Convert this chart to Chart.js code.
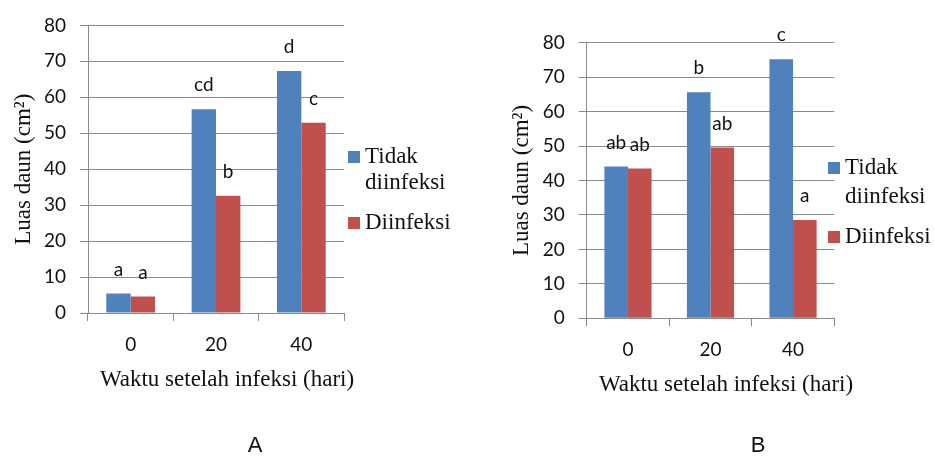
<!DOCTYPE html>
<html><head><meta charset="utf-8">
<script src="https://cdn.jsdelivr.net/npm/chart.js@4/dist/chart.umd.min.js"></script>
<style>
html,body{margin:0;padding:0;background:#fff;width:935px;height:457px;overflow:hidden}
#wa{position:absolute;left:0;top:0;width:470px;height:457px}
#wb{position:absolute;left:470px;top:0;width:465px;height:457px}
canvas{display:block}
</style></head><body>
<div id="wa"><canvas id="ca" width="470" height="457"></canvas></div>
<div id="wb"><canvas id="cb" width="465" height="457"></canvas></div>
<script>
// ---- data ----
const categories = ['0', '20', '40'];
const seriesNames = [['Tidak', 'diinfeksi'], ['Diinfeksi']];
const tidakA = [5.4, 56.7, 67.3];
const diinfeksiA = [4.6, 32.6, 52.9];
const lettersTidakA = ['a', 'cd', 'd'];
const lettersDiinfeksiA = ['a', 'b', 'c'];
const tidakB = [44.1, 65.6, 75.2];
const diinfeksiB = [43.5, 49.6, 28.5];
const lettersTidakB = ['ab', 'b', 'c'];
const lettersDiinfeksiB = ['ab', 'ab', 'a'];
const yMin = 0, yMax = 80, yStep = 10;
const yTitle = 'Luas daun (cm\u00B2)';
const xTitle = 'Waktu setelah infeksi (hari)';
const panelLabels = ['A', 'B'];

// ---- style ----
const BLUE = '#4F81BD', RED = '#C0504D', GRID = '#8a8a8a', INK = '#111';
const SANS = 'Lato, "Open Sans", sans-serif';
const SERIF = '"Liberation Serif", "DejaVu Serif", serif';

const extras = {
  id: 'extras',
  afterDatasetsDraw(chart, args, o) {
    const ctx = chart.ctx;
    ctx.save();
    // letters above bars
    ctx.font = '19px ' + SANS;
    ctx.fillStyle = INK;
    ctx.textAlign = 'center';
    ctx.textBaseline = 'middle';
    chart.data.datasets.forEach((ds, i) => {
      chart.getDatasetMeta(i).data.forEach((bar, j) => {
        ctx.fillText(ds.letters[j], bar.x, bar.y - o.labelGap);
      });
    });
    // legend
    ctx.font = '23px ' + SERIF;
    ctx.textAlign = 'left';
    o.legend.items.forEach((it, i) => {
      const ds = chart.data.datasets[i];
      ctx.fillStyle = ds.backgroundColor;
      ctx.fillRect(o.legend.x, it.y - 6, 12, 12);
      ctx.fillStyle = INK;
      ds.legendLines.forEach((line, k) => {
        ctx.fillText(line, o.legend.x + 17, it.y + k * o.legend.lineH);
      });
    });
    // x title
    ctx.textAlign = 'center';
    ctx.fillText(o.xTitle.text, o.xTitle.x, o.xTitle.y);
    // panel label
    ctx.font = '22px "Liberation Sans", Arial, sans-serif';
    ctx.fillText(o.panel.text, o.panel.x, o.panel.y);
    ctx.restore();
  }
};

function makeChart(id, tidak, diin, lt, ld, L) {
  return new Chart(document.getElementById(id), {
    type: 'bar',
    data: {
      labels: categories,
      datasets: [
        { label: seriesNames[0].join(' '), legendLines: seriesNames[0], data: tidak, letters: lt,
          backgroundColor: BLUE, borderWidth: 0 },
        { label: seriesNames[1].join(' '), legendLines: seriesNames[1], data: diin, letters: ld,
          backgroundColor: RED, borderWidth: 0 }
      ]
    },
    options: {
      responsive: false,
      animation: false,
      devicePixelRatio: 1,
      categoryPercentage: 2 / 3.5,
      barPercentage: 1,
      layout: { padding: { left: 0, top: L.padTop, right: L.padRight, bottom: L.padBottom } },
      plugins: {
        legend: { display: false },
        tooltip: { enabled: false },
        extras: {
          labelGap: 24,
          legend: L.legend,
          xTitle: { text: xTitle, x: L.xTitleX, y: L.xTitleY },
          panel: { text: L.panel, x: L.panelX, y: 446 }
        }
      },
      scales: {
        x: {
          grid: { display: true, drawOnChartArea: false, drawTicks: true, tickLength: 8, color: GRID, offset: true },
          border: { display: true, color: GRID },
          ticks: { font: { family: SANS, size: 19 }, color: INK, padding: 12 },
          afterFit: s => { s.height = 60; }
        },
        y: {
          min: yMin, max: yMax,
          grid: { color: GRID, tickLength: 8, drawTicks: true },
          border: { display: true, color: GRID },
          ticks: { stepSize: yStep, font: { family: SANS, size: 19 }, color: INK, padding: 14 },
          title: { display: true, text: yTitle, font: { family: SERIF, size: 23 }, color: INK,
                   padding: { top: L.yTitlePad, bottom: 0 } },
          afterFit: s => { s.width = L.yWidth; }
        }
      }
    },
    plugins: [extras]
  });
}

makeChart('ca', tidakA, diinfeksiA, lettersTidakA, lettersDiinfeksiA, {
  padTop: 20, padRight: 126, padBottom: 84, yWidth: 88, yTitlePad: 10,
  legend: { x: 348, lineH: 26, items: [{ y: 157 }, { y: 223 }] },
  xTitleX: 227, xTitleY: 380, panel: panelLabels[0], panelX: 255
});
makeChart('cb', tidakB, diinfeksiB, lettersTidakB, lettersDiinfeksiB, {
  padTop: 42.7, padRight: 100.7, padBottom: 78.7, yWidth: 116.7, yTitlePad: 38,
  legend: { x: 358, lineH: 29, items: [{ y: 168 }, { y: 237 }] },
  xTitleX: 256, xTitleY: 385, panel: panelLabels[1], panelX: 288
});
</script>
</body></html>
